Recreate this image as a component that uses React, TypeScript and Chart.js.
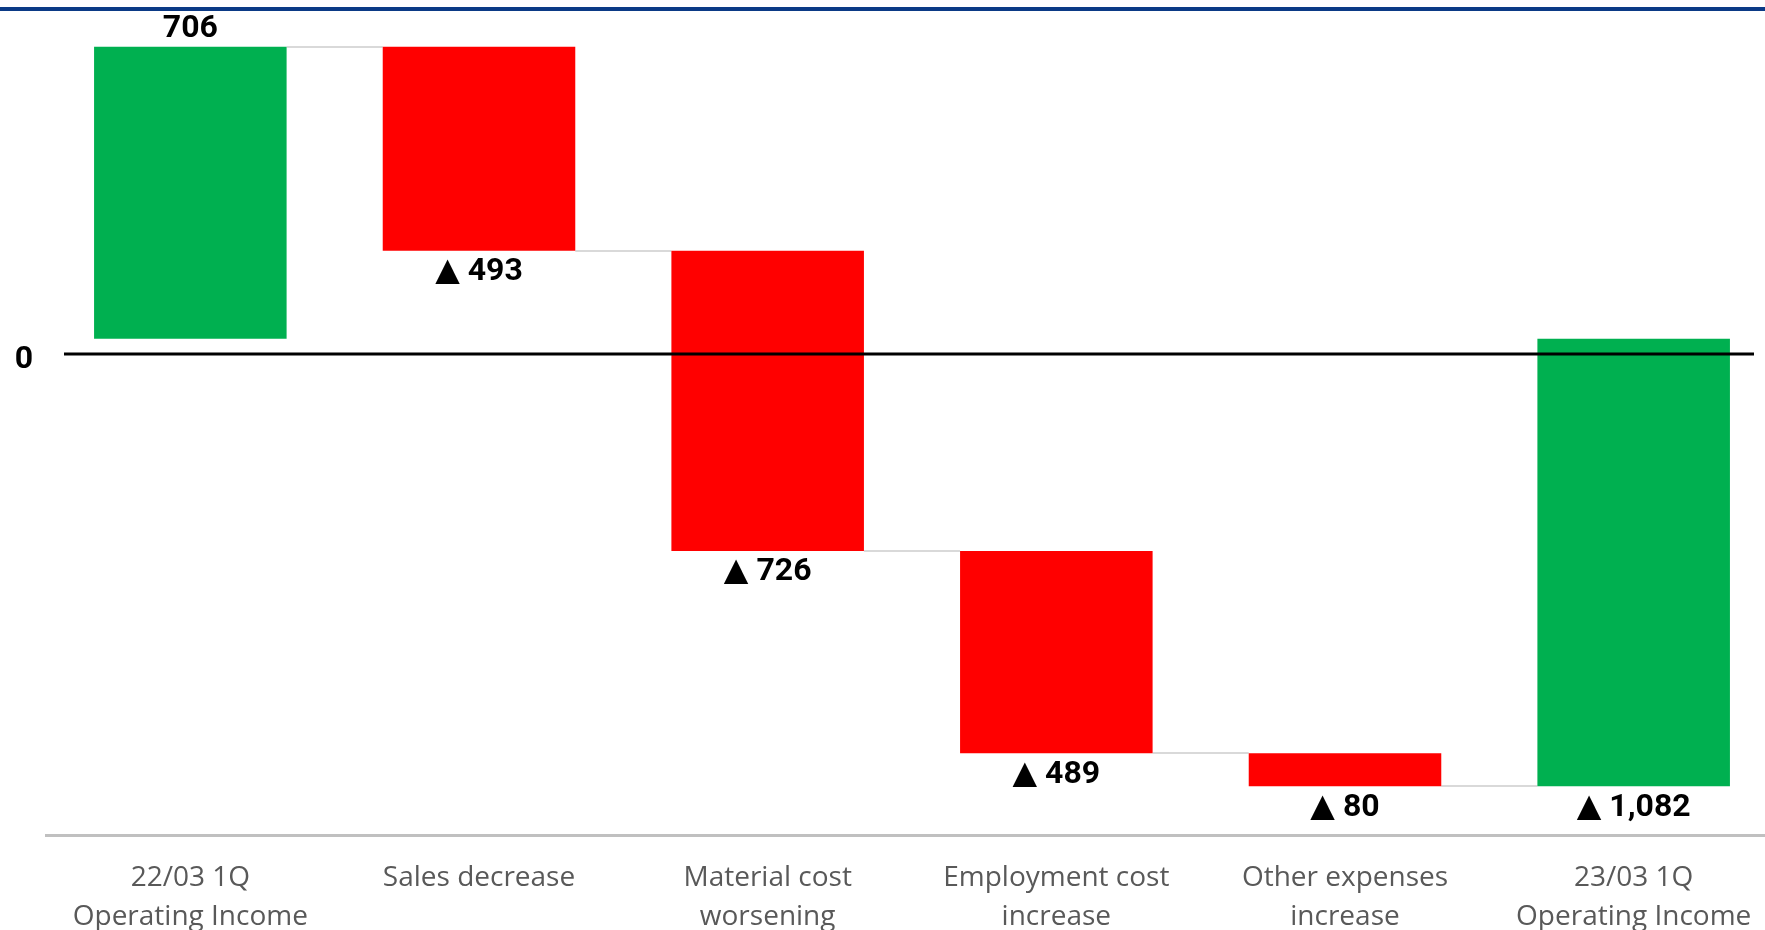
import React, { useEffect, useRef } from "react";
import { Chart, registerables } from "chart.js";

Chart.register(...registerables);

// ---- data ----
const CATEGORIES: string[][] = [
  ["22/03 1Q", "Operating Income"],
  ["Sales decrease"],
  ["Material cost", "worsening"],
  ["Employment cost", "increase"],
  ["Other expenses", "increase"],
  ["23/03 1Q", "Operating Income"],
];
const START_VALUE = 706;
const CHANGES = [-493, -726, -489, -80];
const END_VALUE = -1082;
const Y_MIN = -1200;
const Y_MAX = 800;
// the reference draws its "0" rule slightly below the bars' common base
const ZERO_RULE_VALUE = -37;
const ZERO_TICK_LABEL = "0";

// ---- derived ----
const totals: number[] = [START_VALUE];
CHANGES.forEach((c) => totals.push(totals[totals.length - 1] + c));
const floating: [number, number][] = [
  [0, START_VALUE],
  ...CHANGES.map((_, i) => [totals[i], totals[i + 1]] as [number, number]),
  [0, END_VALUE],
];
const values = [START_VALUE, ...CHANGES, END_VALUE];
const GREEN = "#00b050";
const RED = "#ff0000";
const colors = [GREEN, ...CHANGES.map(() => RED), GREEN];

const fmt = (v: number) =>
  v >= 0 ? v.toLocaleString("en-US") : "\u25B2 " + Math.abs(v).toLocaleString("en-US");

const LABEL_FONT = "bold 32px Roboto, 'DejaVu Sans', sans-serif";

const overlayPlugin = {
  id: "waterfallOverlay",
  beforeDatasetsDraw(chart: any) {
    const ctx = chart.ctx;
    const meta = chart.getDatasetMeta(0);
    const y = chart.scales.y;
    ctx.save();
    ctx.strokeStyle = "#d9d9d9";
    ctx.lineWidth = 2;
    for (let i = 0; i < meta.data.length - 1; i++) {
      const a = meta.data[i];
      const b = meta.data[i + 1];
      const py = Math.round(y.getPixelForValue(totals[i]));
      ctx.beginPath();
      ctx.moveTo(a.x + a.width / 2, py);
      ctx.lineTo(b.x - b.width / 2, py);
      ctx.stroke();
    }
    ctx.restore();
  },
  afterDatasetsDraw(chart: any) {
    const ctx = chart.ctx;
    const meta = chart.getDatasetMeta(0);
    const yS = chart.scales.y;
    const area = chart.chartArea;
    ctx.save();
    // top navy rule
    ctx.fillStyle = "#0b3a86";
    ctx.fillRect(0, 7, chart.width, 4);
    // zero rule
    const zy = yS.getPixelForValue(ZERO_RULE_VALUE);
    ctx.strokeStyle = "#000000";
    ctx.lineWidth = 3;
    ctx.beginPath();
    ctx.moveTo(area.left + 18, zy);
    ctx.lineTo(1754, zy);
    ctx.stroke();
    ctx.font = LABEL_FONT;
    ctx.fillStyle = "#000000";
    ctx.textAlign = "center";
    ctx.textBaseline = "alphabetic";
    ctx.fillText(ZERO_TICK_LABEL, area.left - 22, zy + 14);
    // value labels
    meta.data.forEach((bar: any, i: number) => {
      const v = values[i];
      const top = Math.min(bar.y, bar.base);
      const bottom = Math.max(bar.y, bar.base);
      const ty = v >= 0 ? top - 10 : bottom + 29.5;
      ctx.fillText(fmt(v), bar.x, ty);
    });
    ctx.restore();
  },
};

export default function App() {
  const ref = useRef<HTMLCanvasElement | null>(null);
  useEffect(() => {
    if (!ref.current) return;
    const chart = new Chart(ref.current, {
      type: "bar",
      data: {
        labels: CATEGORIES as any,
        datasets: [
          {
            data: floating as any,
            backgroundColor: colors,
            borderWidth: 0,
            barPercentage: 0.667,
            categoryPercentage: 1,
          },
        ],
      },
      options: {
        responsive: false,
        animation: false,
        devicePixelRatio: 1,
        layout: { padding: { left: 46, right: 2, top: 8, bottom: 0 } },
        plugins: { legend: { display: false }, tooltip: { enabled: false } },
        scales: {
          x: {
            grid: { display: false, drawTicks: false },
            border: { display: true, color: "#c0c0c0", width: 3 },
            ticks: {
              color: "#595959",
              padding: 24,
              maxRotation: 0,
              autoSkip: false,
              font: { family: "'Open Sans', sans-serif", size: 28, lineHeight: 1.39 },
            },
            afterFit: (s: any) => {
              s.height = 95;
            },
          },
          y: {
            display: false,
            min: Y_MIN,
            max: Y_MAX,
          },
        },
      },
      plugins: [overlayPlugin],
    });
    return () => chart.destroy();
  }, []);
  return (
    <div
      style={{
        position: "fixed",
        left: 0,
        top: 0,
        width: 1765,
        height: 930,
        overflow: "hidden",
        background: "#ffffff",
      }}
    >
      <canvas ref={ref} width={1780} height={930} style={{ width: 1780, height: 930, display: "block" }} />
    </div>
  );
}
